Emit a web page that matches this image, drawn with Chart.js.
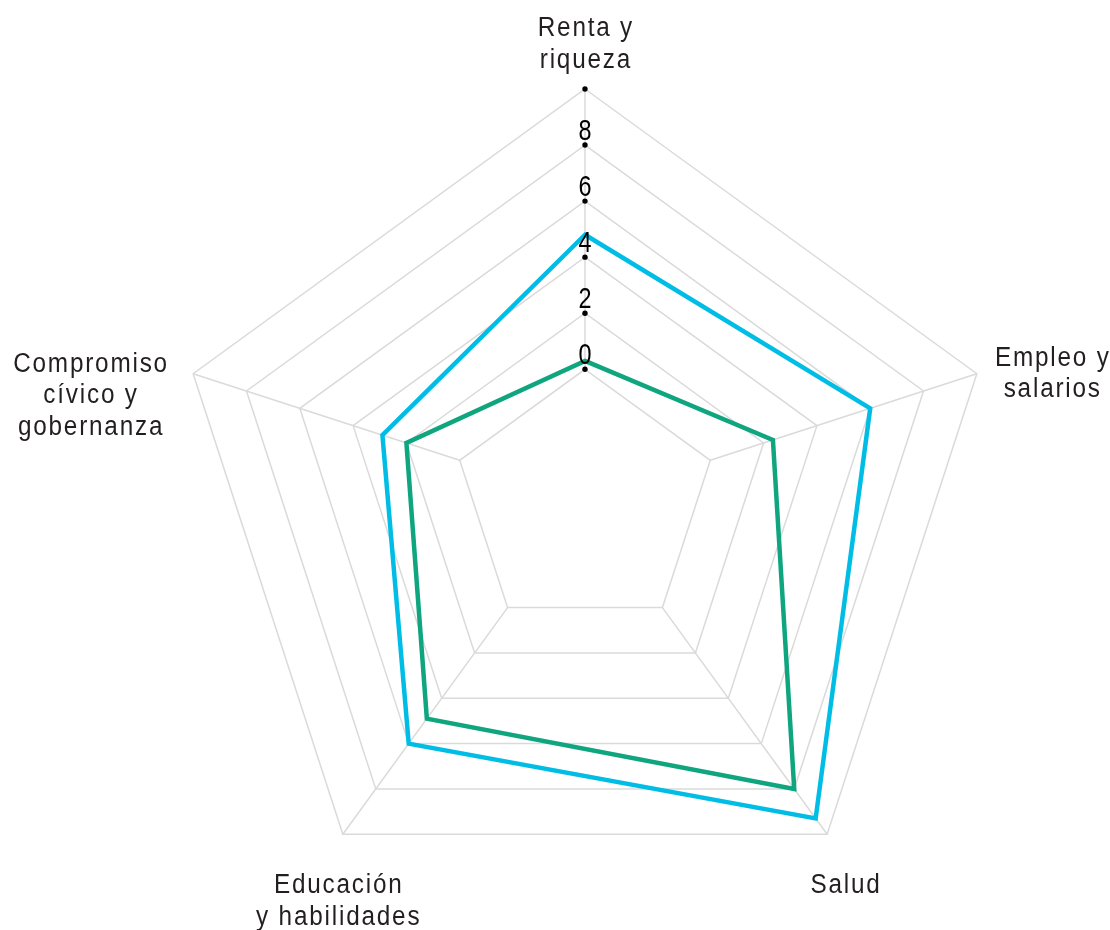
<!DOCTYPE html>
<html>
<head>
<meta charset="utf-8">
<script src="https://cdn.jsdelivr.net/npm/chart.js@4.4.1/dist/chart.umd.min.js"></script>
<style>
  html, body { margin: 0; padding: 0; background: #fff; }
  #wrap { width: 1110px; height: 930px; position: relative; }
</style>
</head>
<body>
<div id="wrap"><canvas id="chart"></canvas></div>
<script>
const categories = [
  ['Renta y', 'riqueza'],
  ['Empleo y', 'salarios'],
  ['Salud'],
  ['Educación', 'y habilidades'],
  ['Compromiso', 'cívico y', 'gobernanza'],
];
const blueValues = [4.8, 6.0, 9.3, 6.0, 2.9];
const greenValues = [0.3, 2.35, 8.0, 4.9, 2.0];
const tickValues = [0, 2, 4, 6, 8, 10];
const tickLabels = ['0', '2', '4', '6', '8', ''];
const scaleMin = -4.7;
const scaleMax = 10;

const blue = '#00bde6';
const green = '#0ea57f';
const gridColor = '#dadada';
const labelFont = '27px "Liberation Sans", Arial, sans-serif';
const tickFont = '30px "Liberation Sans", Arial, sans-serif';

// where each category label sits, relative to its outer vertex (first baseline)
const labelOffsets = [
  { dx: 0, dy: -53 },
  { dx: 75, dy: -8 },
  { dx: 18, dy: 59 },
  { dx: -5, dy: 59 },
  { dx: -103, dy: -2 },
];
const lineHeight = 31.5;

// narrow-looking text: squeeze horizontally around the anchor
function drawNarrow(ctx, text, x, y, squeeze, spacing) {
  ctx.save();
  ctx.translate(x, y);
  ctx.scale(squeeze, 1);
  ctx.letterSpacing = spacing + 'px';
  ctx.textAlign = 'center';
  ctx.fillText(text, spacing / 2, 0);
  ctx.restore();
}

const radarDecor = {
  id: 'radarDecor',
  beforeDatasetsDraw(chart) {
    const r = chart.scales.r;
    const ctx = chart.ctx;
    const inner = r.getDistanceFromCenterForValue(tickValues[0]);
    const outer = r.getDistanceFromCenterForValue(scaleMax);
    ctx.save();
    ctx.strokeStyle = gridColor;
    ctx.lineWidth = 1.5;
    categories.forEach((c, i) => {
      const a = r.getPointPosition(i, inner);
      const b = r.getPointPosition(i, outer);
      ctx.beginPath();
      ctx.moveTo(a.x, a.y);
      ctx.lineTo(b.x, b.y);
      ctx.stroke();
    });
    ctx.restore();
  },
  afterDatasetsDraw(chart) {
    const r = chart.scales.r;
    const ctx = chart.ctx;
    ctx.save();
    ctx.textBaseline = 'alphabetic';
    // dots and value labels on the top axis
    ctx.fillStyle = '#000';
    ctx.font = tickFont;
    tickValues.forEach((v, i) => {
      const p = r.getPointPosition(0, r.getDistanceFromCenterForValue(v));
      ctx.beginPath();
      ctx.arc(p.x, p.y, 2.7, 0, Math.PI * 2);
      ctx.fill();
      if (tickLabels[i]) drawNarrow(ctx, tickLabels[i], p.x, p.y - 5, 0.78, 0);
    });
    // category labels
    ctx.fillStyle = '#231f20';
    ctx.font = labelFont;
    const outer = r.getDistanceFromCenterForValue(scaleMax);
    categories.forEach((lines, i) => {
      const p = r.getPointPosition(i, outer);
      const off = labelOffsets[i];
      lines.forEach((line, j) => {
        drawNarrow(ctx, line, p.x + off.dx, p.y + off.dy + j * lineHeight, 0.9, 2);
      });
    });
    ctx.restore();
  }
};

new Chart(document.getElementById('chart'), {
  type: 'radar',
  data: {
    labels: categories,
    datasets: [
      {
        label: 'Serie 1',
        data: blueValues,
        borderColor: blue,
        borderWidth: 4.5,
        borderJoinStyle: 'miter',
        fill: false,
        pointRadius: 0,
      },
      {
        label: 'Serie 2',
        data: greenValues,
        borderColor: green,
        borderWidth: 4.5,
        borderJoinStyle: 'miter',
        fill: false,
        pointRadius: 0,
      },
    ],
  },
  options: {
    responsive: true,
    maintainAspectRatio: false,
    animation: false,
    layout: {
      padding: { top: 89, bottom: 17, left: 173, right: 113 },
    },
    plugins: {
      legend: { display: false },
      tooltip: { enabled: false },
    },
    scales: {
      r: {
        min: scaleMin,
        max: scaleMax,
        afterBuildTicks: (scale) => {
          scale.ticks = tickValues.map((v) => ({ value: v }));
        },
        ticks: { display: false },
        grid: { color: gridColor, lineWidth: 1.5 },
        angleLines: { display: false },
        pointLabels: { display: false },
      },
    },
  },
  plugins: [radarDecor],
});
</script>
</body>
</html>
